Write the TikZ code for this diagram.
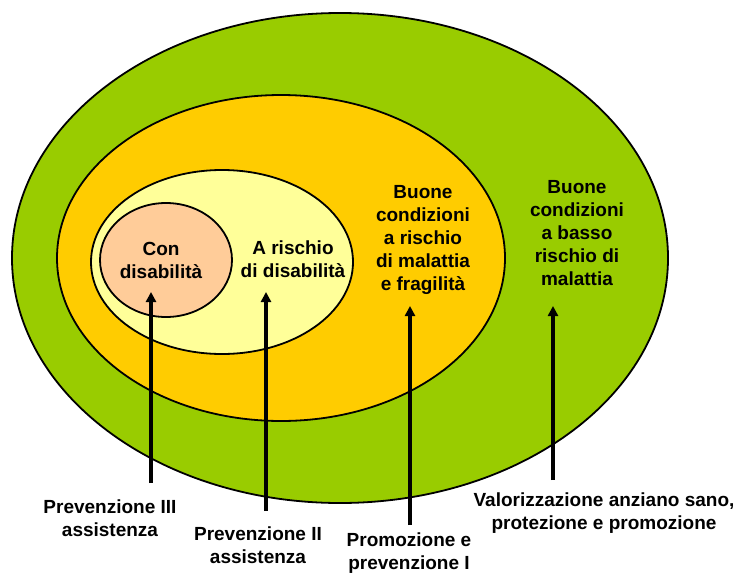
\documentclass[tikz,border=0pt]{standalone}
\usepackage{fontspec}
\setmainfont{Liberation Sans}
\usetikzlibrary{arrows.meta}
\definecolor{cgreen}{HTML}{99CC00}
\definecolor{corange}{HTML}{FFCC00}
\definecolor{cyellow}{HTML}{FFFF99}
\definecolor{csalmon}{HTML}{FFCC99}
\tikzset{
  zone/.style={draw=black, line width=1.8pt},
  lbl/.style={align=center, font=\fontsize{19pt}{23pt}\selectfont\bfseries, inner sep=0pt},
  arr/.style={line width=3.2pt, -{Triangle[length=10pt,width=10pt]}}
}
\begin{document}
\begin{tikzpicture}[x=1pt,y=-1pt]
\useasboundingbox (0,0) rectangle (739,573);
\path[zone, fill=cgreen] (340,258) ellipse [x radius=328pt, y radius=245pt];
\path[zone, fill=corange] (281,258) ellipse [x radius=224pt, y radius=163pt];
\path[zone, fill=cyellow] (222,262) ellipse [x radius=131pt, y radius=92pt];
\path[zone, fill=csalmon] (166,260) ellipse [x radius=66pt, y radius=57pt];

\node[lbl] (con) at (161,260) {Con\\disabilità};
\node[lbl] (arischio) at (293,259) {A rischio\\di disabilità};
\node[lbl] (buone1) at (423,240) {Buone\\condizioni\\a rischio\\di malattia\\e fragilità};
\node[lbl] (buone2) at (577,233) {Buone\\condizioni\\a basso\\rischio di\\malattia};

\node[lbl] (prev3) at (110,518) {Prevenzione III\\assistenza};
\node[lbl] (prev2) at (258,545) {Prevenzione II\\assistenza};
\node[lbl] (prom) at (409,553) {Promozione e\\prevenzione I};
\node[lbl] (valor) at (604,513) {Valorizzazione anziano sano,\\protezione e promozione};

\coordinate (a1s) at (151,483); \coordinate (a1e) at (151,292);
\coordinate (a2s) at (266,511); \coordinate (a2e) at (266,292);
\coordinate (a3s) at (410,525); \coordinate (a3e) at (410,306);
\coordinate (a4s) at (553,480); \coordinate (a4e) at (553,306);
\draw[arr] (a1s) -- (a1e);
\draw[arr] (a2s) -- (a2e);
\draw[arr] (a3s) -- (a3e);
\draw[arr] (a4s) -- (a4e);
\end{tikzpicture}
\end{document}
